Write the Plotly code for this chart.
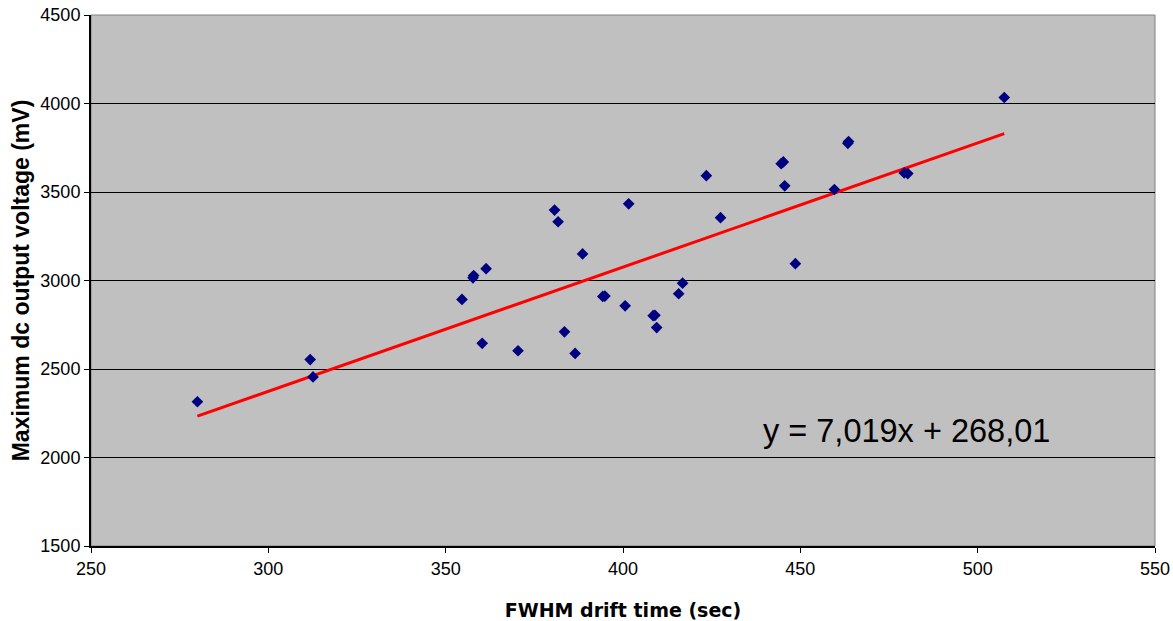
import plotly.graph_objects as go

# Data
drift_time = [280.0, 311.8, 312.6, 354.6, 357.7, 357.9, 361.4, 360.3, 370.4, 380.7,
              381.7, 383.5, 386.5, 388.6, 394.3, 394.9, 400.6, 401.6, 408.5, 409.0,
              409.5, 415.7, 416.8, 423.5, 427.5, 444.6, 445.2, 445.6, 448.6, 459.6,
              463.4, 463.6, 479.3, 480.3, 507.5]
voltage = [2315, 2553, 2455, 2893, 3015, 3028, 3067, 2645, 2603, 3398,
           3332, 2710, 2588, 3150, 2910, 2912, 2857, 3433, 2801, 2803,
           2734, 2925, 2985, 3592, 3355, 3660, 3670, 3535, 3095, 3514,
           3775, 3785, 3608, 3604, 4034]

slope = 7.019
intercept = 268.01
equation_text = "y = 7,019x + 268,01"

x_ticks = [250, 300, 350, 400, 450, 500, 550]
y_ticks = [1500, 2000, 2500, 3000, 3500, 4000, 4500]

trend_x = [min(drift_time), max(drift_time)]
trend_y = [slope * v + intercept for v in trend_x]

fig = go.Figure()
fig.add_trace(go.Scatter(
    x=trend_x, y=trend_y, mode="lines",
    line=dict(color="#FF0000", width=3), hoverinfo="skip", showlegend=False))
fig.add_trace(go.Scatter(
    x=drift_time, y=voltage, mode="markers",
    marker=dict(symbol="diamond", size=9, color="#000080"),
    showlegend=False))

fig.add_annotation(x=0.766, y=2150, xref="paper", yref="y", xanchor="center",
                   text=equation_text, showarrow=False,
                   font=dict(family="Liberation Sans", size=32.5, color="#000000"))

fig.update_layout(
    width=1173, height=621,
    margin=dict(l=91, r=18, t=15, b=75),
    paper_bgcolor="#FFFFFF", plot_bgcolor="#C0C0C0",
    font=dict(family="Liberation Sans", size=18, color="#000000"),
    shapes=[dict(type="rect", xref="paper", yref="paper", x0=0, y0=0, x1=1, y1=1,
                 line=dict(color="#808080", width=1), layer="below")],
)
fig.update_xaxes(
    range=[250, 550], tickvals=x_ticks, showgrid=False, zeroline=False,
    showline=True, linecolor="#000000", linewidth=2, automargin=False,
    ticks="outside", ticklen=5, tickwidth=1, tickcolor="#000000",
    tickfont=dict(size=18),
    title=dict(text="FWHM drift time (sec)", standoff=26,
               font=dict(family="DejaVu Sans", size=19, color="#000000", weight="bold")))
fig.update_yaxes(
    range=[1500, 4500], tickvals=y_ticks, showgrid=True, gridcolor="#000000", gridwidth=1,
    zeroline=False, showline=True, linecolor="#000000", linewidth=2, automargin=False,
    ticks="outside", ticklen=5, tickwidth=1, tickcolor="#000000",
    tickfont=dict(size=18),
    title=dict(text="Maximum dc output voltage (mV)", standoff=4,
               font=dict(family="Liberation Sans", size=23, color="#000000", weight="bold")))

fig.write_html("out.html", config={"displayModeBar": False},
               post_script="document.body.style.margin='0';")
